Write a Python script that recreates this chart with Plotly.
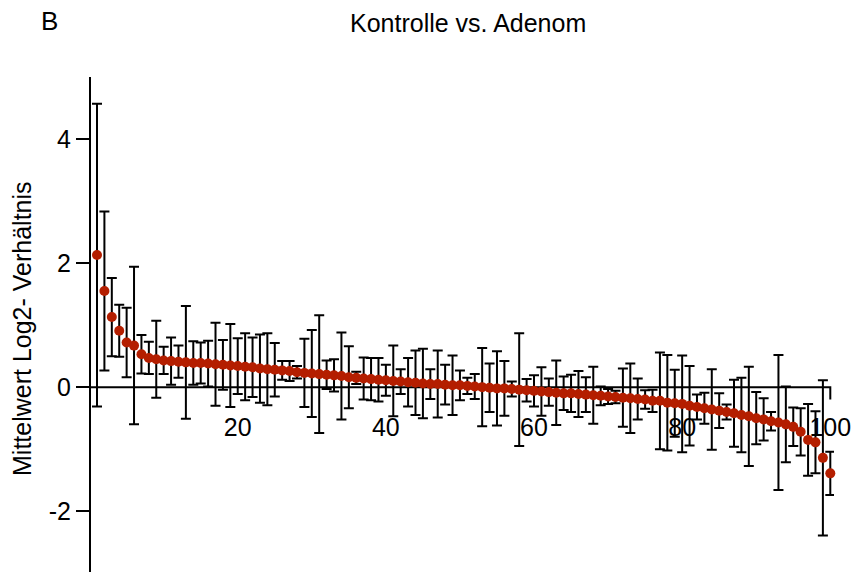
import plotly.graph_objects as go

# Rank position of each gene (sorted by mean log2 ratio)
rank = list(range(1, 101))

# Mean log2 ratio, control vs. adenoma
mean_log2 = [
    2.13, 1.55, 1.13, 0.91, 0.72, 0.67, 0.53, 0.47, 0.45, 0.43,
    0.42, 0.41, 0.40, 0.39, 0.39, 0.38, 0.37, 0.36, 0.35, 0.34,
    0.33, 0.32, 0.30, 0.29, 0.28, 0.27, 0.26, 0.24, 0.23, 0.22,
    0.21, 0.20, 0.19, 0.18, 0.16, 0.15, 0.14, 0.13, 0.12, 0.11,
    0.10, 0.09, 0.08, 0.07, 0.06, 0.05, 0.05, 0.04, 0.03, 0.03,
    0.02, 0.01, 0.00, -0.01, -0.02, -0.02, -0.03, -0.04, -0.05, -0.06,
    -0.07, -0.08, -0.09, -0.10, -0.10, -0.11, -0.12, -0.13, -0.14, -0.15,
    -0.16, -0.17, -0.18, -0.19, -0.20, -0.22, -0.22, -0.25, -0.26, -0.27,
    -0.30, -0.32, -0.34, -0.36, -0.38, -0.40, -0.42, -0.45, -0.47, -0.50,
    -0.52, -0.55, -0.57, -0.60, -0.64, -0.72, -0.85, -0.89, -1.14, -1.39,
]

# Half-width of the error bar around each mean
err_half = [
    2.44, 1.28, 0.63, 0.42, 0.56, 1.27, 0.31, 0.26, 0.62, 0.22,
    0.38, 0.26, 0.91, 0.35, 0.33, 0.37, 0.67, 0.40, 0.67, 0.45,
    0.54, 0.48, 0.55, 0.58, 0.43, 0.15, 0.16, 0.10, 0.55, 0.70,
    0.95, 0.23, 0.26, 0.70, 0.50, 0.10, 0.34, 0.34, 0.35, 0.25,
    0.57, 0.20, 0.39, 0.52, 0.56, 0.24, 0.54, 0.32, 0.48, 0.24,
    0.13, 0.20, 0.63, 0.39, 0.60, 0.44, 0.12, 0.91, 0.18, 0.25,
    0.39, 0.22, 0.52, 0.27, 0.30, 0.37, 0.28, 0.46, 0.15, 0.12,
    0.10, 0.47, 0.56, 0.33, 0.15, 0.18, 0.78, 0.77, 0.54, 0.78,
    0.64, 0.20, 0.25, 0.65, 0.28, 0.12, 0.54, 0.60, 0.80, 0.42,
    0.34, 0.15, 1.09, 0.61, 0.31, 0.38, 0.58, 0.50, 1.25, 0.35,
]

x_ticks = [20, 40, 60, 80, 100]
y_ticks = [-2, 0, 2, 4]
y_tick_text = ["-2", "0", "2", "4"]

FONT = "Arial, Liberation Sans, sans-serif"
X_RANGE = [0.19, 100.5]
Y_RANGE = [-2.98, 5.0]
LW = 2

fig = go.Figure()

fig.add_trace(go.Scatter(
    x=rank,
    y=mean_log2,
    mode="markers",
    marker=dict(color="#B41E00", size=10, line=dict(width=0)),
    error_y=dict(type="data", array=err_half, symmetric=True,
                 color="black", thickness=LW, width=5),
    cliponaxis=False,
    showlegend=False,
))

# Zero reference line with a short end stop on the right
fig.add_shape(
    type="path",
    path=f"M {X_RANGE[0]},0 L {len(rank)},0 L {len(rank)},-0.2",
    xref="x", yref="y",
    line=dict(color="black", width=LW),
    layer="below",
)

fig.update_layout(
    width=854, height=572,
    margin=dict(l=91, r=20, t=77, b=0),
    paper_bgcolor="white", plot_bgcolor="white",
    font=dict(family=FONT, color="black"),
    xaxis=dict(
        range=X_RANGE,
        anchor="free",
        position=(0 - Y_RANGE[0]) / (Y_RANGE[1] - Y_RANGE[0]),
        showline=False, showgrid=False, zeroline=False,
        tickvals=x_ticks, ticks="",
        ticklabelstandoff=23,
        tickfont=dict(size=25, family=FONT, color="black"),
    ),
    yaxis=dict(
        range=Y_RANGE,
        showline=True, linecolor="black", linewidth=LW,
        showgrid=False, zeroline=False,
        tickvals=y_ticks, ticktext=y_tick_text,
        ticks="outside", ticklen=13, tickwidth=LW, tickcolor="black",
        tickfont=dict(size=25, family=FONT, color="black"),
    ),
    annotations=[
        dict(text="Kontrolle vs. Adenom", xref="paper", yref="paper",
             x=(468 - 91) / 743, y=1 + (77 - 23) / 495,
             xanchor="center", yanchor="middle", showarrow=False,
             font=dict(size=25, family=FONT, color="black")),
        dict(text="B", xref="paper", yref="paper",
             x=(49 - 91) / 743, y=1 + (77 - 21) / 495,
             xanchor="center", yanchor="middle", showarrow=False,
             font=dict(size=26, family=FONT, color="black")),
        dict(text="Mittelwert Log2- Verhältnis", xref="paper", yref="paper",
             x=(22 - 91) / 743, y=1 - (329 - 77) / 495,
             xanchor="center", yanchor="middle", textangle=-90,
             showarrow=False,
             font=dict(size=25, family=FONT, color="black")),
    ],
)

fig.write_html("out.html")
